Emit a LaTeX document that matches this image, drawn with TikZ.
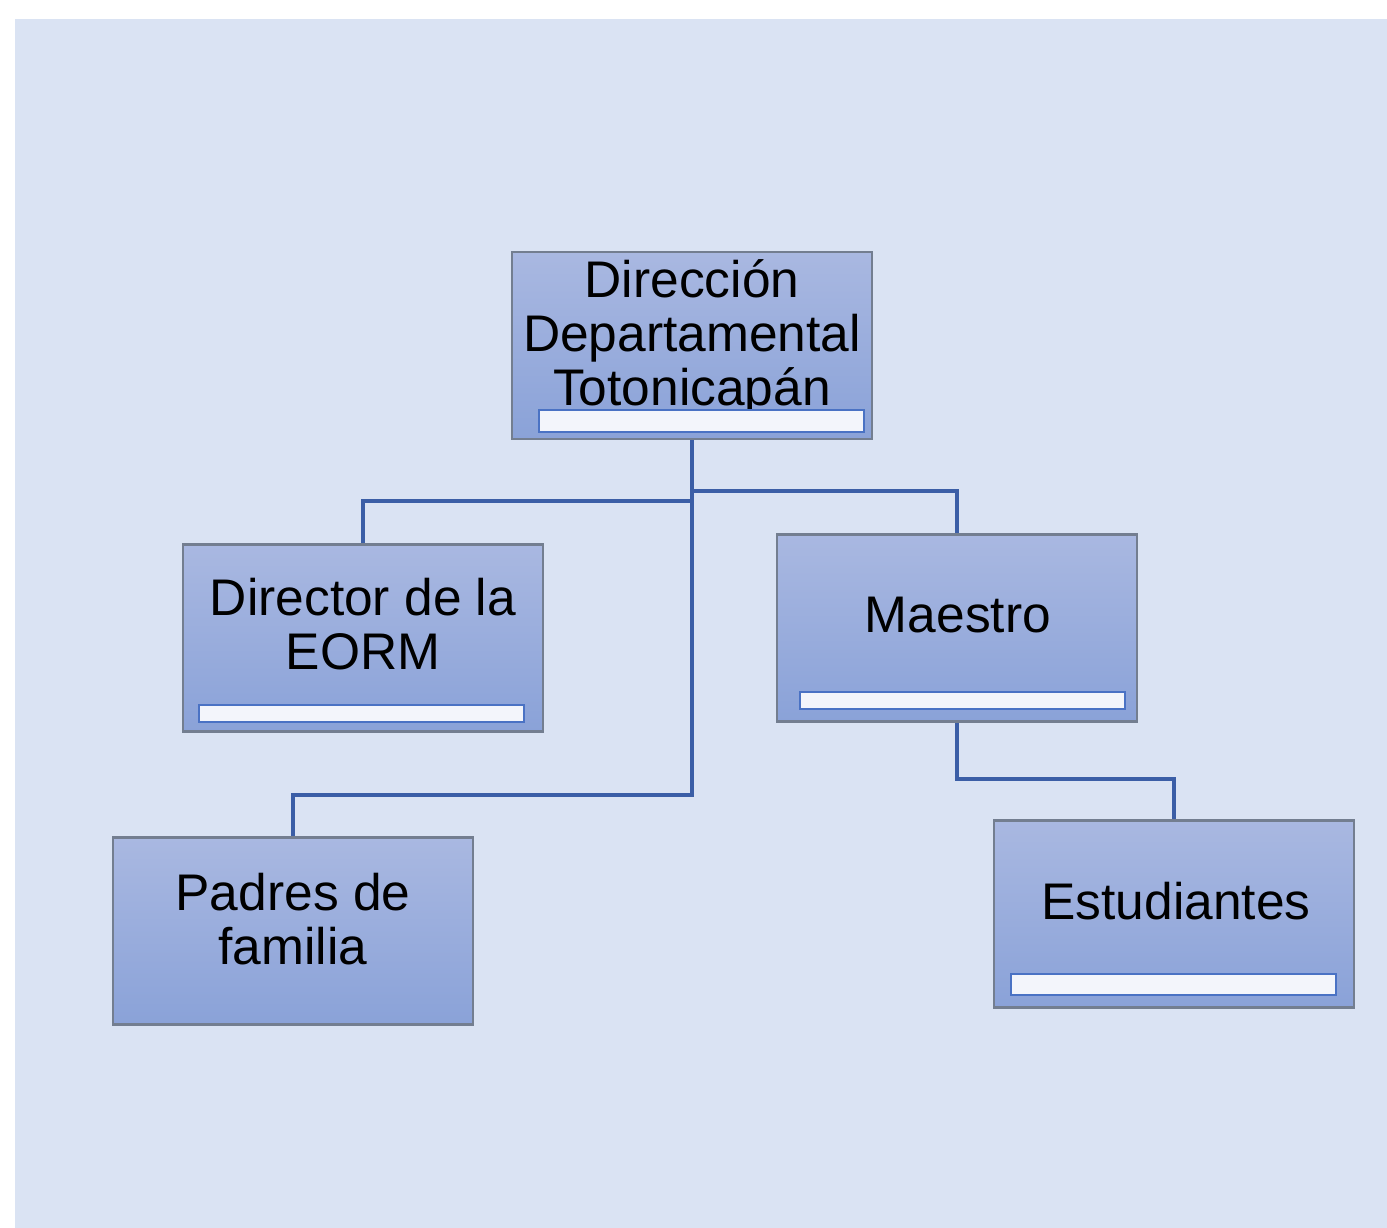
\documentclass[tikz,border=0pt]{standalone}
\usepackage{fontspec}
\setmainfont{Liberation Sans}
\definecolor{bgc}{HTML}{DAE3F3}
\definecolor{boxtop}{HTML}{A9B8E1}
\definecolor{boxbot}{HTML}{8AA2D8}
\definecolor{boxedge}{HTML}{737E90}
\definecolor{barfill}{HTML}{F3F5FB}
\definecolor{baredge}{HTML}{4A72C4}
\definecolor{conncol}{HTML}{3B5EA6}
\tikzset{
  orgbox/.style={draw=boxedge, line width=2.5pt, top color=boxtop, bottom color=boxbot,
    minimum width=360pt, minimum height=187pt, inner sep=0pt},
  orgbar/.style={draw=baredge, fill=barfill, line width=2pt, minimum width=325pt,
    minimum height=20pt, inner sep=0pt},
  orgtext/.style={align=center, inner sep=0pt, font=\fontsize{51.5}{54}\selectfont},
  conn/.style={draw=conncol, line width=4pt}
}
\begin{document}
\begin{tikzpicture}[x=1pt,y=-1pt]
\useasboundingbox (0,0) rectangle (1387,1228);
\fill[white] (0,0) rectangle (1387,1228);
\fill[bgc] (15,19) rectangle (1387,1228);

% boxes
\node[orgbox] (top) at (692,345.5) {};
\node[orgbox] (dir) at (363,638) {};
\node[orgbox] (mae) at (957,628) {};
\node[orgbox] (pad) at (293,931) {};
\node[orgbox] (est) at (1174,914) {};

% texts
\node[orgtext] (toptext) at (692,338) {Dirección\\Departamental\\Totonicapán};
\node[orgtext] (dirtext) at (363,624) {Director de la\\EORM};
\node[orgtext] (maetext) at (958,615) {Maestro};
\node[orgtext] (padtext) at (293,919) {Padres de\\familia};
\node[orgtext] (esttext) at (1176,901) {Estudiantes};

% bars
\node[orgbar, minimum height=22pt] (topbar) at (701.5,420.5) {};
\node[orgbar, minimum height=17pt] (dirbar) at (361.5,713) {};
\node[orgbar, minimum height=17pt] (maebar) at (962,700.5) {};
\node[orgbar, minimum height=21pt] (estbar) at (1173.5,984.5) {};

% connectors
\coordinate (jpad) at (692,795);
\coordinate (jdir) at (692,501);
\coordinate (jmae) at (692,491);
\draw[conn] (top.south) -- (jpad) -| (pad.north);
\draw[conn] (jdir) -| (dir.north);
\draw[conn] (jmae) -| (mae.north);
\draw[conn] (mae.south) -- ++(0,56) -| (est.north);
\end{tikzpicture}
\end{document}
